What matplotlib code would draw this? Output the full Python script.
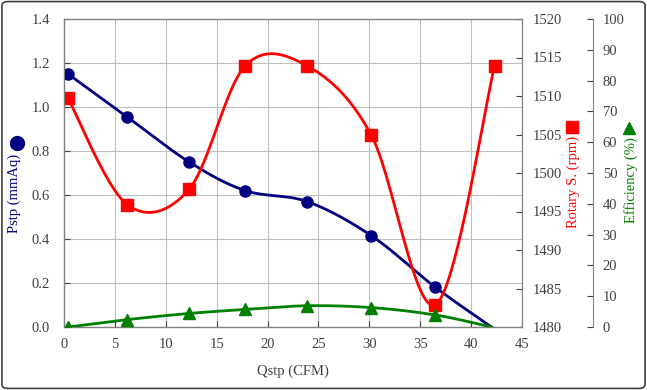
import numpy as np
import matplotlib.pyplot as plt
from matplotlib.lines import Line2D
from matplotlib.patches import FancyBboxPatch

plt.rcParams['font.family'] = ['Liberation Serif', 'DejaVu Serif']

# data
qstp = [0.4, 6.2, 12.3, 17.8, 23.9, 30.2, 36.5, 42.0]
pstp = [1.15, 0.955, 0.75, 0.62, 0.57, 0.415, 0.18, 0.0]
q_rot = [0.4, 6.2, 12.3, 17.8, 23.9, 30.2, 36.5, 42.3]
rotary = [1509.7, 1495.9, 1497.9, 1513.9, 1513.9, 1504.9, 1482.9, 1513.9]
eff = [0.0, 2.4, 4.4, 5.7, 6.9, 6.3, 3.9, 0.0]


def smooth(x, y, xr, yr, n=40):
    # catmull-rom style bezier smoothing done in normalised (screen-like) space
    px = (np.asarray(x, float) - xr[0]) / (xr[1] - xr[0]) * 458
    py = (np.asarray(y, float) - yr[0]) / (yr[1] - yr[0]) * 308
    P = np.column_stack([px, py])
    P = np.vstack([P[0], P, P[-1]])
    out = []
    t = np.linspace(0, 1, n)[:, None]
    for i in range(1, len(P) - 2):
        p0, p1, p2, p3 = P[i - 1], P[i], P[i + 1], P[i + 2]
        c1 = p1 + (p2 - p0) / 6
        c2 = p2 - (p3 - p1) / 6
        seg = (1 - t) ** 3 * p1 + 3 * (1 - t) ** 2 * t * c1 + 3 * (1 - t) * t ** 2 * c2 + t ** 3 * p2
        out.append(seg)
    out = np.vstack(out)
    return (out[:, 0] / 458 * (xr[1] - xr[0]) + xr[0],
            out[:, 1] / 308 * (yr[1] - yr[0]) + yr[0])


fig = plt.figure(figsize=(6.47, 3.90), dpi=100)
ax = fig.add_axes([64 / 647, 1 - 327 / 390, 458 / 647, 308 / 390])
ax2 = ax.twinx()
ax3 = ax.twinx()
ax3.spines['right'].set_position(('axes', 1.155))

tcol = '#404040'
fs = 10.5

ax.set_xlim(0, 45)
ax.set_ylim(0, 1.4)
ax.set_xticks(np.arange(0, 46, 5))
ax.set_yticks(np.arange(0, 1.41, 0.2))
ax.yaxis.set_major_formatter(plt.FuncFormatter(lambda v, p: f'{v:.1f}'))
ax.grid(True, color='#bfbfbf', linewidth=0.8)
ax.set_axisbelow(True)
ax2.set_ylim(1480, 1520)
ax2.set_yticks(np.arange(1480, 1521, 5))
ax3.set_ylim(0, 100)
ax3.set_yticks(np.arange(0, 101, 10))

for a in (ax, ax2, ax3):
    a.tick_params(direction='in', labelsize=fs, colors=tcol, length=4)
    for s in a.spines.values():
        s.set_color('#808080')
ax.tick_params(axis='y', pad=10)
ax.tick_params(axis='x', pad=8)
ax2.tick_params(axis='y', pad=8)
ax3.tick_params(axis='y', pad=7)
ax.spines['left'].set_color('#404040')
ax.spines['bottom'].set_color('#404040')
ax3.spines['right'].set_color('#808080')

ax.set_xlabel('Qstp (CFM)', fontsize=fs, color=tcol, labelpad=10)

# Pstp
sx, sy = smooth(qstp, pstp, (0, 45), (0, 1.4))
ax.plot(sx, sy, color='#000080', lw=2, zorder=5)
ax.plot(qstp[:-1], pstp[:-1], 'o', color='#000080', ms=8, zorder=6)

# Rotary speed
sx, sy = smooth(q_rot, rotary, (0, 45), (1480, 1520))
ax2.plot(sx, sy, color='#ff0000', lw=2, zorder=5)
ax2.plot(q_rot, rotary, 's', color='#ff0000', ms=8, zorder=6)

# Efficiency
sx, sy = smooth(qstp, eff, (0, 45), (0, 100))
ax3.plot(sx, sy, color='#008000', lw=2, zorder=5)
ax3.plot(qstp[:-1], eff[:-1], '^', color='#008000', ms=8, zorder=6)

# axis titles with marker symbols
fig.text(14 / 647, 1 - 193 / 390, 'Pstp (mmAq)', rotation=90, color='#000080',
         fontsize=fs, ha='center', va='center')
fig.add_artist(Line2D([17 / 647], [1 - 143 / 390], marker='o', color='#000080',
                      ms=10, transform=fig.transFigure))
fig.text(573 / 647, 1 - 182 / 390, 'Rotary S. (rpm)', rotation=90, color='#ff0000',
         fontsize=fs, ha='center', va='center')
fig.add_artist(Line2D([572 / 647], [1 - 127 / 390], marker='s', color='#ff0000',
                      ms=9, transform=fig.transFigure))
fig.text(631 / 647, 1 - 180 / 390, 'Efficiency (%)', rotation=90, color='#008000',
         fontsize=fs, ha='center', va='center')
fig.add_artist(Line2D([629 / 647], [1 - 128 / 390], marker='^', color='#008000',
                      ms=9, transform=fig.transFigure))

fig.add_artist(FancyBboxPatch((0.003, 0.004), 0.994, 0.992,
                              boxstyle='round,pad=0,rounding_size=0.01',
                              transform=fig.transFigure, fill=False,
                              edgecolor='#404040', lw=1.2))

fig.savefig('out.png', dpi=100)
